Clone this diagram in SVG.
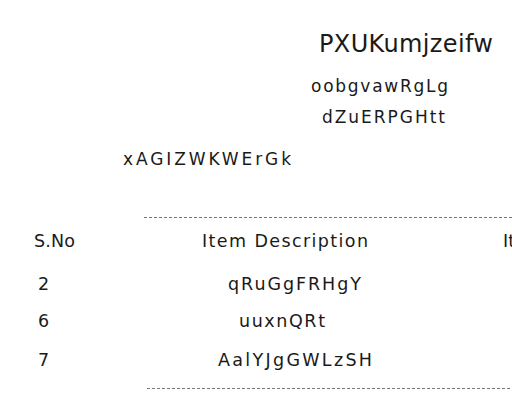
<svg xmlns="http://www.w3.org/2000/svg" width="512" height="400" viewBox="0 0 512 400">
<style>
text{font-family:"DejaVu Sans","Liberation Sans",sans-serif;fill:#1a1a1a}
.t{font-size:24px}
.s{font-size:17px}
.c{font-size:17.5px}
.d{stroke:#777;stroke-width:1;stroke-dasharray:3 2;fill:none}
</style>
<rect width="512" height="400" fill="#fff"/>
<g id="header">
<text class="t" x="319" y="52" textLength="174" lengthAdjust="spacing">PXUKumjzeifw</text>
<text class="s" x="311" y="92" textLength="137" lengthAdjust="spacing">oobgvawRgLg</text>
<text class="s" x="322" y="123" textLength="123" lengthAdjust="spacing">dZuERPGHtt</text>
<text class="s" x="123" y="165" textLength="168" lengthAdjust="spacing">xAGIZWKWErGk</text>
</g>
<g id="rules">
<line class="d" x1="144" y1="217.5" x2="512" y2="217.5"/>
<line class="d" x1="147" y1="388.5" x2="512" y2="388.5"/>
</g>
<g id="table-head">
<text class="c" x="34" y="247" textLength="41" lengthAdjust="spacing">S.No</text>
<text class="c" x="202" y="247" textLength="166" lengthAdjust="spacing">Item Description</text>
<text class="c" x="503" y="247">It</text>
</g>
<g id="row1">
<text class="c" x="38" y="290">2</text>
<text class="c" x="228" y="290" textLength="133" lengthAdjust="spacing">qRuGgFRHgY</text>
</g>
<g id="row2">
<text class="c" x="38" y="327">6</text>
<text class="c" x="239" y="327" textLength="86" lengthAdjust="spacing">uuxnQRt</text>
</g>
<g id="row3">
<text class="c" x="38" y="366">7</text>
<text class="c" x="218" y="366" textLength="154" lengthAdjust="spacing">AalYJgGWLzSH</text>
</g>
</svg>
